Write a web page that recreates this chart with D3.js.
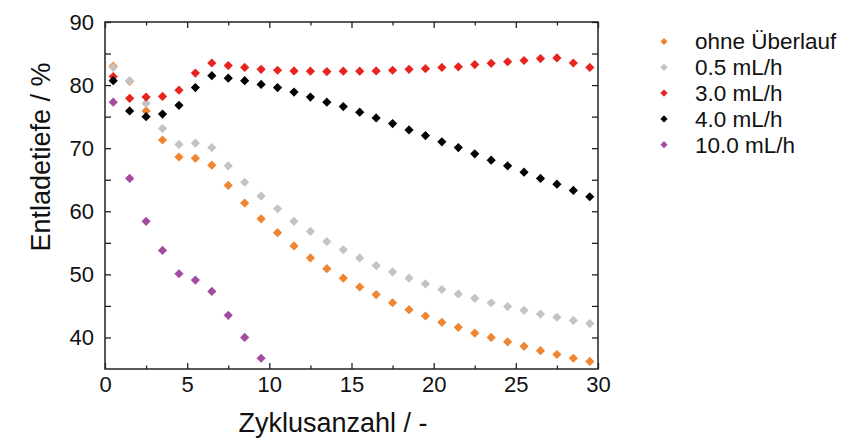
<!DOCTYPE html>
<html>
<head>
<meta charset="utf-8">
<script src="https://cdn.jsdelivr.net/npm/d3@7"></script>
<style>
  body { margin: 0; background: #fff; }
  svg { display: block; font-family: "Liberation Sans", Arial, sans-serif; }
</style>
</head>
<body>
<svg id="chart" width="852" height="444"></svg>
<script>
const cycles = d3.range(0.5, 30, 1);

const seriesNames = ["ohne Überlauf", "0.5 mL/h", "3.0 mL/h", "4.0 mL/h", "10.0 mL/h"];
const seriesColors = ["#ef8530", "#c3c3c3", "#e8231f", "#000000", "#a34c9e"];

const ohneUeberlauf = [83.0, 80.6, 75.9, 71.3, 68.6, 68.4, 67.3, 64.1, 61.3, 58.8,
  56.6, 54.5, 52.6, 50.9, 49.4, 48.0, 46.8, 45.5, 44.4, 43.4,
  42.4, 41.6, 40.7, 40.0, 39.3, 38.6, 37.9, 37.3, 36.7, 36.2];
const rate05 = [82.8, 80.7, 77.1, 73.1, 70.6, 70.8, 70.1, 67.2, 64.6, 62.4,
  60.4, 58.4, 56.8, 55.2, 53.9, 52.6, 51.4, 50.4, 49.4, 48.5,
  47.6, 46.9, 46.2, 45.5, 44.9, 44.3, 43.7, 43.2, 42.7, 42.2];
const rate30 = [81.35, 77.9, 78.1, 78.2, 79.2, 81.9, 83.5, 83.1, 82.8, 82.5,
  82.35, 82.25, 82.2, 82.15, 82.2, 82.2, 82.25, 82.35, 82.5, 82.6,
  82.8, 82.9, 83.25, 83.45, 83.7, 83.9, 84.2, 84.3, 83.5, 82.8];
const rate40 = [80.7, 75.9, 75.0, 75.4, 76.8, 79.6, 81.5, 81.1, 80.7, 80.1,
  79.6, 78.9, 78.1, 77.3, 76.6, 75.7, 74.8, 73.9, 72.9, 72.0,
  71.0, 70.1, 69.1, 68.1, 67.2, 66.2, 65.2, 64.3, 63.3, 62.3];
const rate100 = [77.3, 65.2, 58.4, 53.8, 50.1, 49.1, 47.3, 43.5, 40.0, 36.7];

const seriesValues = [ohneUeberlauf, rate05, rate30, rate40, rate100];

const xMajorTicks = [0, 5, 10, 15, 20, 25, 30];
const xMinorTicks = [2.5, 7.5, 12.5, 17.5, 22.5, 27.5];
const yMajorTicks = [40, 50, 60, 70, 80, 90];
const yMinorTicks = [45, 55, 65, 75, 85];

const svg = d3.select("#chart");
const margin = { top: 22, left: 105, right: 254, bottom: 75 };
const width = 852 - margin.left - margin.right;
const height = 444 - margin.top - margin.bottom;
const g = svg.append("g").attr("transform", `translate(${margin.left},${margin.top})`);

const x = d3.scaleLinear().domain([0, 30]).range([0, width]);
const y = d3.scaleLinear().domain([35, 90]).range([height, 0]);

const fontSize = 22;
const axisColor = "#222";

function styleAxis(sel) {
  sel.select(".domain").remove();
  sel.selectAll("line").attr("stroke", axisColor).attr("stroke-width", 1.3);
  sel.selectAll("text").attr("fill", "#111").style("font-size", fontSize + "px");
}

// bottom + top
g.append("g").attr("transform", `translate(0,${height})`)
  .call(d3.axisBottom(x).tickValues(xMajorTicks).tickSize(-6).tickPadding(7).tickFormat(d3.format("d")))
  .call(styleAxis);
g.append("g").attr("transform", `translate(0,${height})`)
  .call(d3.axisBottom(x).tickValues(xMinorTicks).tickSize(-3.5).tickFormat(""))
  .call(styleAxis);
g.append("g")
  .call(d3.axisTop(x).tickValues(xMajorTicks).tickSize(-6).tickFormat(""))
  .call(styleAxis);
g.append("g")
  .call(d3.axisTop(x).tickValues(xMinorTicks).tickSize(-3.5).tickFormat(""))
  .call(styleAxis);

// left + right
g.append("g")
  .call(d3.axisLeft(y).tickValues(yMajorTicks).tickSize(-6).tickPadding(11).tickFormat(d3.format("d")))
  .call(styleAxis);
g.append("g")
  .call(d3.axisLeft(y).tickValues(yMinorTicks).tickSize(-6).tickFormat(""))
  .call(styleAxis);
g.append("g").attr("transform", `translate(${width},0)`)
  .call(d3.axisRight(y).tickValues(yMajorTicks).tickSize(-6).tickFormat(""))
  .call(styleAxis);
g.append("g").attr("transform", `translate(${width},0)`)
  .call(d3.axisRight(y).tickValues(yMinorTicks).tickSize(-6).tickFormat(""))
  .call(styleAxis);

g.append("rect")
  .attr("width", width)
  .attr("height", height)
  .attr("fill", "none")
  .attr("stroke", axisColor)
  .attr("stroke-width", 1.5);

// axis titles
svg.append("text")
  .attr("x", 333)
  .attr("y", 432)
  .attr("text-anchor", "middle")
  .style("font-size", "27px")
  .attr("fill", "#111")
  .text("Zyklusanzahl / -");

svg.append("text")
  .attr("transform", "translate(50,157) rotate(-90)")
  .attr("text-anchor", "middle")
  .style("font-size", "27px")
  .attr("fill", "#111")
  .text("Entladetiefe / %");

const diamond = r => `M0,${-r}L${r},0L0,${r}L${-r},0Z`;

// markers
seriesValues.forEach((vals, i) => {
  g.append("g")
    .selectAll("path")
    .data(vals)
    .join("path")
    .attr("transform", (d, j) => `translate(${x(cycles[j])},${y(d)})`)
    .attr("d", diamond(4.6))
    .attr("fill", seriesColors[i]);
});

// legend
const legend = svg.append("g").attr("transform", "translate(664,41.5)");
seriesNames.forEach((name, i) => {
  const row = legend.append("g").attr("transform", `translate(0,${i * 25.8})`);
  row.append("path").attr("d", diamond(3.6)).attr("fill", seriesColors[i]);
  row.append("text")
    .attr("x", 31)
    .attr("dy", "0.35em")
    .style("font-size", "22.5px")
    .attr("fill", "#111")
    .text(name);
});
</script>
</body>
</html>
